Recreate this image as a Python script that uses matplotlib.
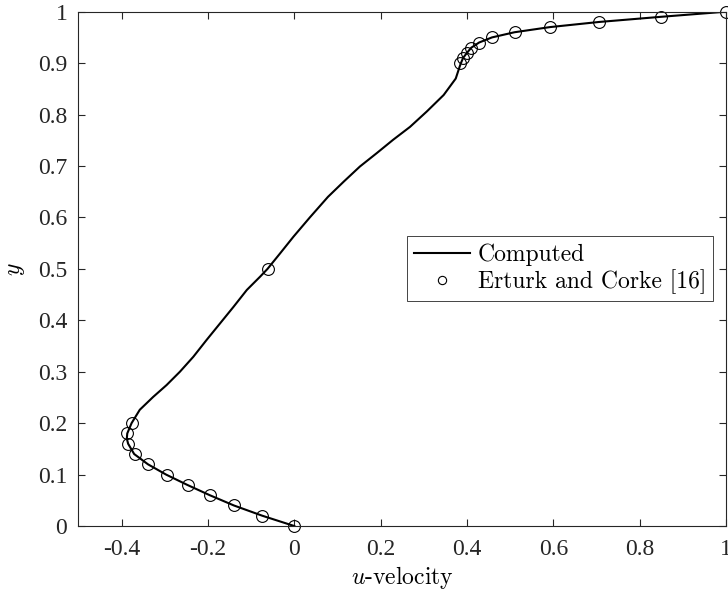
import numpy as np
import matplotlib
matplotlib.use("Agg")
import matplotlib.pyplot as plt

# ======================================================
# Data
# ======================================================

# computed u-velocity profile along the vertical centreline
y_comp = [0.0, 0.02, 0.04, 0.06, 0.08, 0.10, 0.12, 0.14, 0.16, 0.17, 0.18,
          0.20, 0.226, 0.251, 0.274, 0.300, 0.329, 0.362, 0.394, 0.426, 0.459,
          0.485, 0.50, 0.530, 0.5625, 0.60, 0.640, 0.67, 0.699, 0.725, 0.751,
          0.776, 0.806, 0.838, 0.870, 0.893, 0.90, 0.91, 0.92, 0.93, 0.94,
          0.95, 0.96, 0.97, 0.98, 0.99, 1.0]
u_comp = [0.0, -0.074, -0.140, -0.196, -0.248, -0.297, -0.339, -0.371, -0.385,
          -0.388, -0.387, -0.377, -0.358, -0.327, -0.296, -0.265, -0.234,
          -0.203, -0.172, -0.141, -0.110, -0.079, -0.062, -0.033, -0.002,
          0.036, 0.078, 0.115, 0.152, 0.191, 0.229, 0.268, 0.307, 0.346,
          0.374, 0.383, 0.386, 0.391, 0.400, 0.410, 0.428, 0.458, 0.510,
          0.592, 0.706, 0.849, 1.0]

# Erturk and Corke [16] benchmark
y_ref = [1.000, 0.990, 0.980, 0.970, 0.960, 0.950, 0.940, 0.930, 0.920,
         0.910, 0.900, 0.500, 0.200, 0.180, 0.160, 0.140, 0.120, 0.100,
         0.080, 0.060, 0.040, 0.020, 0.000]
u_ref = [1.0000, 0.8486, 0.7065, 0.5917, 0.5102, 0.4582, 0.4276, 0.4101,
         0.3993, 0.3913, 0.3838, -0.0620, -0.3756, -0.3869, -0.3854, -0.3690,
         -0.3381, -0.2960, -0.2472, -0.1951, -0.1392, -0.0757, 0.0000]

x_ticks = [-0.4, -0.2, 0, 0.2, 0.4, 0.6, 0.8, 1]
x_ticklabels = ["-0.4", "-0.2", "0", "0.2", "0.4", "0.6", "0.8", "1"]
y_ticks = [0, 0.1, 0.2, 0.3, 0.4, 0.5, 0.6, 0.7, 0.8, 0.9, 1]
y_ticklabels = ["0", "0.1", "0.2", "0.3", "0.4", "0.5", "0.6", "0.7", "0.8", "0.9", "1"]

# ======================================================
# Plot
# ======================================================

plt.rcParams["mathtext.fontset"] = "cm"
axis_grey = "0.15"
fs = 17

fig = plt.figure(figsize=(7.28, 5.96), dpi=100)
ax = fig.add_axes([0.1078, 0.1174, 0.8894, 0.863])

ax.plot(u_comp, y_comp, color="black", lw=1.5, label="Computed",
        solid_joinstyle="round")
ax.plot(u_ref, y_ref, "o", mfc="none", mec="black", ms=8.5, mew=0.8,
        label="Erturk and Corke [16]", clip_on=False)

ax.set_xlim(-0.5, 1)
ax.set_ylim(0, 1)
ax.set_xticks(x_ticks)
ax.set_xticklabels(x_ticklabels)
ax.set_yticks(y_ticks)
ax.set_yticklabels(y_ticklabels)

for spine in ax.spines.values():
    spine.set_color(axis_grey)
    spine.set_linewidth(0.8)

ax.tick_params(direction="in", length=5, width=0.8, color=axis_grey,
               top=True, right=True, labelcolor=axis_grey)
ax.tick_params(axis="y", pad=8)
ax.tick_params(axis="x", pad=9)
for lab in ax.get_xticklabels() + ax.get_yticklabels():
    lab.set_fontfamily("Liberation Serif")
    lab.set_fontsize(fs)

ax.set_xlabel(r"$u$-velocity", fontfamily="cmr10", fontsize=fs, labelpad=3)
ax.set_ylabel(r"$y$", fontsize=fs, labelpad=8)

leg = ax.legend(loc="center right", prop={"family": "cmr10", "size": fs},
                frameon=True, fancybox=False, framealpha=1, edgecolor=axis_grey,
                handlelength=2.4, handletextpad=0.3, labelspacing=0.15,
                borderpad=0.3, borderaxespad=0.55, markerscale=0.7)
leg.get_frame().set_linewidth(0.6)

fig.savefig("out.png", dpi=100)
